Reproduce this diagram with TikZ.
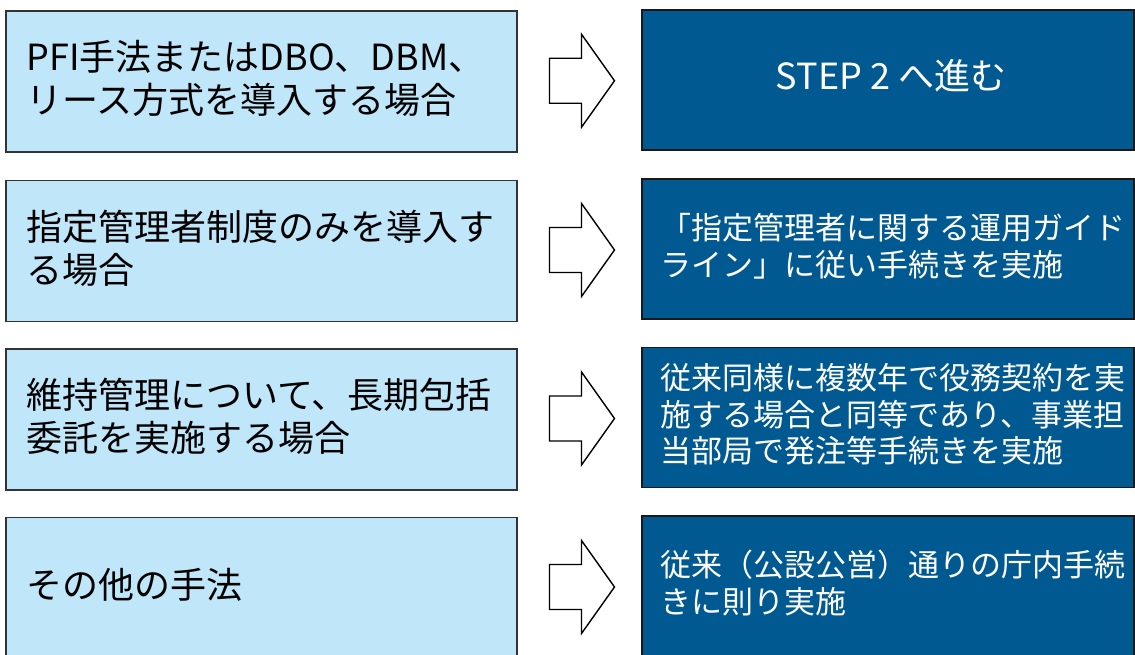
\documentclass[tikz,border=0pt]{standalone}
\usepackage{fontspec}
\newfontfamily\jpfont{Noto Sans CJK JP}
\usepackage{tikz}
\usetikzlibrary{positioning, calc}
\definecolor{caselight}{HTML}{C0E6FA}
\definecolor{stepdark}{HTML}{005A91}
\tikzset{
	flowarrow/.pic={
			\draw[line width=1.4pt, fill=white, line join=miter]
			(0,-22.5) --
			(32,-22.5) --
			(32,-46.5) --
			(65,0) --
			(32,46.5) --
			(32,22.5) --
			(0,22.5) --
			cycle;
		}
}
\tikzset{
	casebox/.style={draw=black!80, line width=1.3pt, fill=caselight, minimum width=511pt, minimum height=141pt, inner sep=0pt}
}
\tikzset{
	stepbox/.style={draw=black!90, line width=1.3pt, fill=stepdark, minimum width=492pt, minimum height=140pt, inner sep=0pt}
}
\tikzset{
	casetext/.style={inner sep=0pt, align=left, anchor=west, font={\jpfont\fontsize{36}{43}\selectfont}}
}
\tikzset{
	steptext/.style={inner sep=0pt, align=left, anchor=west, text=white, font={\jpfont\fontsize{31}{36.5}\selectfont}}
}

\begin{document}
\begin{tikzpicture}[x=1pt, y=-1pt]

			\useasboundingbox (0,0) rectangle (1135,655);

			\begin{scope}
				\node[casebox] (l1) at (261.5,81.5) {};
				\node[casebox] (l2) at (261.5,251) {};
				\node[casebox] (l3) at (261.5,419.5) {};
				\node[casebox] (l4) at (261.5,588) {};

				\node[casetext] (t1) at ([xshift=21pt,yshift=3pt]l1.west) {PFI手法またはDBO、DBM、\\リース方式を導入する場合};
				\node[casetext] (t2) at ([xshift=21pt,yshift=3pt]l2.west) {指定管理者制度のみを導入す\\る場合};
				\node[casetext] (t3) at ([xshift=21pt,yshift=3pt]l3.west) {維持管理について、長期包括\\委託を実施する場合};
				\node[casetext] (t4) at ([xshift=21pt,yshift=3pt]l4.west) {その他の手法};
			\end{scope}

			\begin{scope}
				\node[stepbox] (r1) at (888,80) {};
				\node[stepbox] (r2) at (888,249) {};
				\node[stepbox] (r3) at (888,417.5) {};
				\node[stepbox] (r4) at (888,586) {};

				\node[text=white, inner sep=0pt, font={\jpfont\fontsize{36}{40}\selectfont}] (s1) at ([xshift=3pt,yshift=4pt]r1.center) {STEP 2 へ進む};
				\node[steptext] (s2) at ([xshift=19pt,yshift=3pt]r2.west) {「指定管理者に関する運用ガイド\\ライン」に従い手続きを実施};
				\node[steptext] (s3) at ([xshift=19pt,yshift=3pt]r3.west) {従来同様に複数年で役務契約を実\\施する場合と同等であり、事業担\\当部局で発注等手続きを実施};
				\node[steptext] (s4) at ([xshift=19pt,yshift=3pt]r4.west) {従来（公設公営）通りの庁内手続\\きに則り実施};
			\end{scope}

			% arrows between the two columns
			\foreach \i in {1,...,4} {
				\coordinate (a\i) at ($(l\i.east)!0.5!(r\i.west)+(-30,0)$);
				\pic at (a\i) {flowarrow};
			}

		\end{tikzpicture}
\end{document}
